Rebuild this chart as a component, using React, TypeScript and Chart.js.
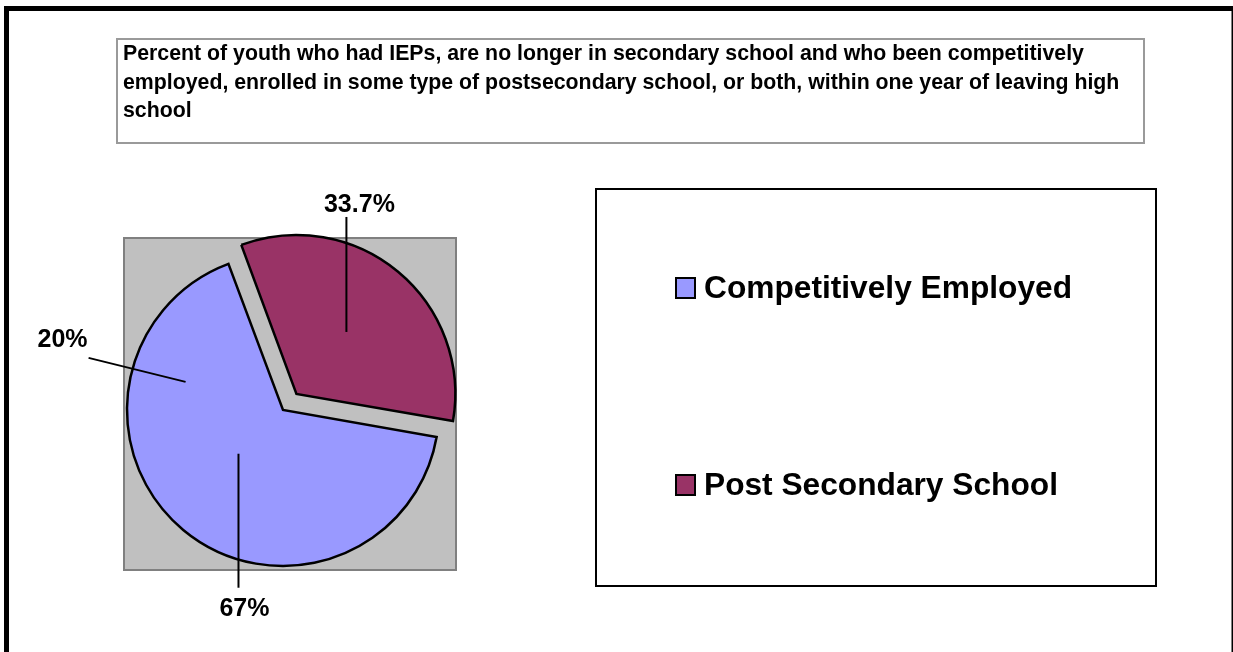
import { useEffect, useRef } from "react";
import { Chart, registerables } from "chart.js";

Chart.register(...registerables);

// ---------- data ----------
const categories = ["Competitively Employed", "Post Secondary School"];
const values = [67, 33.7];
const sliceColors = ["#9999FF", "#993366"];
const explode = [0, 84];
const titleLines = [
  "Percent of youth who had IEPs, are no longer in secondary school and who been competitively",
  "employed, enrolled in some type of postsecondary school, or both, within one year of leaving high",
  "school",
];
const labelTexts = ["20%", "67%", "33.7%"];
const labelSlices = [0, 0, 1];

// ---------- styling / placement ----------
const FONT = '"Liberation Sans", Arial, sans-serif';
const LABEL_POS = [
  { frac: 0.777, r: 0.65, lx: -97, ly: -24, tx: -123, ty: -35 },
  { frac: 0.524, r: 0.4, lx: 0, ly: 134, tx: 6, ty: 162 },
  { frac: 0.493, r: 0.51, lx: 0, ly: -115, tx: 13, ty: -120 },
];

const chromePlugin = {
  id: "chrome",
  beforeDraw(chart: any) {
    const ctx = chart.ctx as CanvasRenderingContext2D;
    ctx.save();
    ctx.fillStyle = "#ffffff";
    ctx.fillRect(0, 0, chart.width, chart.height);

    // outer frame
    ctx.strokeStyle = "#000000";
    ctx.lineWidth = 5;
    ctx.strokeRect(6.5, 8.5, 1227.5, 700);

    // title box
    ctx.strokeStyle = "#9a9a9a";
    ctx.lineWidth = 2;
    ctx.strokeRect(117, 39, 1027, 104);
    ctx.fillStyle = "#000000";
    ctx.font = `bold 21.3px ${FONT}`;
    ctx.textAlign = "left";
    ctx.textBaseline = "alphabetic";
    titleLines.forEach((line, i) => {
      ctx.fillText(line, 123, 60 + i * 28.5);
    });

    // plot area
    ctx.fillStyle = "#C0C0C0";
    ctx.fillRect(123, 237, 334, 334);
    ctx.strokeStyle = "#808080";
    ctx.lineWidth = 2;
    ctx.strokeRect(124, 238, 332, 332);

    // legend box
    ctx.strokeStyle = "#000000";
    ctx.lineWidth = 2;
    ctx.strokeRect(596, 189, 560, 397);
    ctx.font = `bold 31.7px ${FONT}`;
    categories.forEach((cat, i) => {
      const base = 298 + i * 197;
      ctx.fillStyle = sliceColors[i];
      ctx.fillRect(676, base - 20, 19, 20);
      ctx.strokeStyle = "#000000";
      ctx.lineWidth = 2;
      ctx.strokeRect(676, base - 20, 19, 20);
      ctx.fillStyle = "#000000";
      ctx.fillText(cat, 704, base);
    });
    ctx.restore();
  },
};

const labelPlugin = {
  id: "sliceLabels",
  afterDatasetsDraw(chart: any) {
    const ctx = chart.ctx as CanvasRenderingContext2D;
    const meta = chart.getDatasetMeta(0);
    ctx.save();
    ctx.font = `bold 25px ${FONT}`;
    ctx.textAlign = "center";
    ctx.textBaseline = "alphabetic";
    ctx.strokeStyle = "#000000";
    ctx.fillStyle = "#000000";
    ctx.lineWidth = 2;
    labelTexts.forEach((text, k) => {
      const i = labelSlices[k];
      const arc = meta.data[i];
      const { x, y, startAngle, endAngle, outerRadius } = arc.getProps(
        ["x", "y", "startAngle", "endAngle", "outerRadius"],
        true
      );
      const shift = (explode[i] || 0) / 4;
      const mid = (startAngle + endAngle) / 2;
      const cx = x + Math.cos(mid) * shift;
      const cy = y + Math.sin(mid) * shift;
      const p = LABEL_POS[k];
      const a = startAngle + p.frac * (endAngle - startAngle);
      const ax = cx + Math.cos(a) * outerRadius * p.r;
      const ay = cy + Math.sin(a) * outerRadius * p.r;
      ctx.beginPath();
      ctx.moveTo(ax, ay);
      ctx.lineTo(ax + p.lx, ay + p.ly);
      ctx.stroke();
      ctx.fillText(text, ax + p.tx, ay + p.ty);
    });
    ctx.restore();
  },
};

export default function App() {
  const canvasRef = useRef<HTMLCanvasElement | null>(null);

  useEffect(() => {
    const canvas = canvasRef.current;
    if (!canvas) return;
    const chart = new Chart(canvas, {
      type: "pie",
      data: {
        labels: categories,
        datasets: [
          {
            data: values,
            backgroundColor: sliceColors,
            borderColor: "#000000",
            borderWidth: 2.5,
            borderJoinStyle: "miter",
            offset: explode,
            clip: false,
          } as any,
        ],
      },
      options: {
        animation: false,
        responsive: false,
        devicePixelRatio: 1,
        rotation: 100,
        radius: 156,
        events: [],
        layout: { padding: { left: 127, right: 794, top: 254, bottom: 86 } },
        plugins: {
          legend: { display: false },
          title: { display: false },
          tooltip: { enabled: false },
        },
      } as any,
      plugins: [chromePlugin, labelPlugin],
    });
    return () => chart.destroy();
  }, []);

  return (
    <div style={{ position: "absolute", left: 0, top: 0, width: 1233, height: 652 }}>
      <canvas ref={canvasRef} width={1233} height={652} style={{ display: "block" }} />
    </div>
  );
}
